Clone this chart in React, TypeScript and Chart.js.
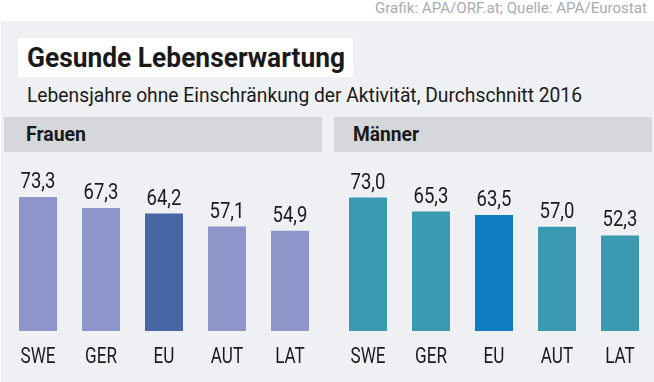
import React, { useEffect, useRef } from "react";
import { Chart, registerables } from "chart.js";

Chart.register(...registerables);

const categories = ["SWE", "GER", "EU", "AUT", "LAT"];
const frauenValues = [73.3, 67.3, 64.2, 57.1, 54.9];
const maennerValues = [73.0, 65.3, 63.5, 57.0, 52.3];
const frauenColors = ["#8e95ca", "#8e95ca", "#4766a3", "#8e95ca", "#8e95ca"];
const maennerColors = ["#3b9ab2", "#3b9ab2", "#0e7dc2", "#3b9ab2", "#3b9ab2"];

const titleText = "Gesunde Lebenserwartung";
const subtitleText = "Lebensjahre ohne Einschränkung der Aktivität, Durchschnitt 2016";
const sourceText = "Grafik: APA/ORF.at; Quelle: APA/Eurostat";
const leftHeader = "Frauen";
const rightHeader = "Männer";

const FONT = "Roboto, 'Noto Sans', sans-serif";
const TEXT = "#1b1b1b";

function drawCondensed(ctx: any, text: string, x: number, y: number, squeeze: number) {
  ctx.save();
  ctx.translate(x, y);
  ctx.scale(squeeze, 1);
  ctx.fillText(text, 0, 0);
  ctx.restore();
}

const labelsPlugin = {
  id: "labelsPlugin",
  afterDatasetsDraw(chart: any) {
    const ctx = chart.ctx;
    const meta = chart.getDatasetMeta(0);
    const data = chart.data.datasets[0].data as number[];
    const xScale = chart.scales.x;
    ctx.save();
    ctx.fillStyle = TEXT;
    ctx.textAlign = "center";
    ctx.textBaseline = "alphabetic";
    ctx.font = `22px ${FONT}`;
    meta.data.forEach((bar: any, i: number) => {
      drawCondensed(ctx, data[i].toFixed(1).replace(".", ","), bar.x, bar.y - 9, 0.84);
    });
    ctx.font = `22.5px ${FONT}`;
    (chart.data.labels as string[]).forEach((lab: string, i: number) => {
      drawCondensed(ctx, lab, xScale.getPixelForValue(i), chart.chartArea.bottom + 32, 0.76);
    });
    ctx.restore();
  },
};

function BarPanel({ values, colors, left, width, padL, padR }: any) {
  const ref = useRef<HTMLCanvasElement>(null);
  useEffect(() => {
    const chart = new Chart(ref.current!, {
      type: "bar",
      data: {
        labels: categories,
        datasets: [
          {
            data: values,
            backgroundColor: colors,
            borderWidth: 0,
            categoryPercentage: 1,
            barPercentage: 38 / 63,
          },
        ],
      },
      options: {
        animation: false,
        responsive: false,
        maintainAspectRatio: false,
        events: [],
        layout: { padding: { left: padL, right: padR, top: 0, bottom: 51 } },
        plugins: { legend: { display: false }, tooltip: { enabled: false } },
        scales: {
          x: { display: false },
          y: { display: false, min: 0, max: 99 },
        },
      },
      plugins: [labelsPlugin],
    });
    return () => chart.destroy();
  }, []);
  return (
    <canvas
      ref={ref}
      width={width}
      height={232}
      style={{ position: "absolute", left, top: 150, width, height: 232 }}
    />
  );
}

export default function App() {
  return (
    <div
      style={{
        position: "fixed",
        left: 0,
        top: 0,
        width: 654,
        height: 382,
        background: "#ffffff",
        overflow: "hidden",
      }}
    >
      <svg
        width={654}
        height={382}
        style={{ position: "absolute", left: 0, top: 0 }}
        fontFamily={FONT}
      >
        <text x={375} y={13} fontSize={14} fill="#a9abb3" textLength={272} lengthAdjust="spacingAndGlyphs">
          {sourceText}
        </text>
        <rect x={1} y={21} width={653} height={361} fill="#eef0f3" />
        <rect x={18} y={38} width={335} height={39} fill="#ffffff" />
        <text x={27} y={67} fontSize={27} fontWeight={700} fill="#1a1a1a" textLength={318} lengthAdjust="spacingAndGlyphs">
          {titleText}
        </text>
        <text x={27} y={102} fontSize={21} fill="#1a1a1a" textLength={555} lengthAdjust="spacingAndGlyphs">
          {subtitleText}
        </text>
        <rect x={4} y={117} width={318} height={35} fill="#d5d7db" />
        <rect x={334} y={117} width={318} height={35} fill="#d5d7db" />
        <text x={26} y={141} fontSize={20} fontWeight={700} fill="#1a1a1a" textLength={60} lengthAdjust="spacingAndGlyphs">
          {leftHeader}
        </text>
        <text x={353} y={141} fontSize={20} fontWeight={700} fill="#1a1a1a" textLength={66} lengthAdjust="spacingAndGlyphs">
          {rightHeader}
        </text>
      </svg>
      <BarPanel values={frauenValues} colors={frauenColors} left={4} width={322} padL={2.5} padR={4.5} />
      <BarPanel values={maennerValues} colors={maennerColors} left={334} width={320} padL={2.5} padR={2.5} />
    </div>
  );
}
